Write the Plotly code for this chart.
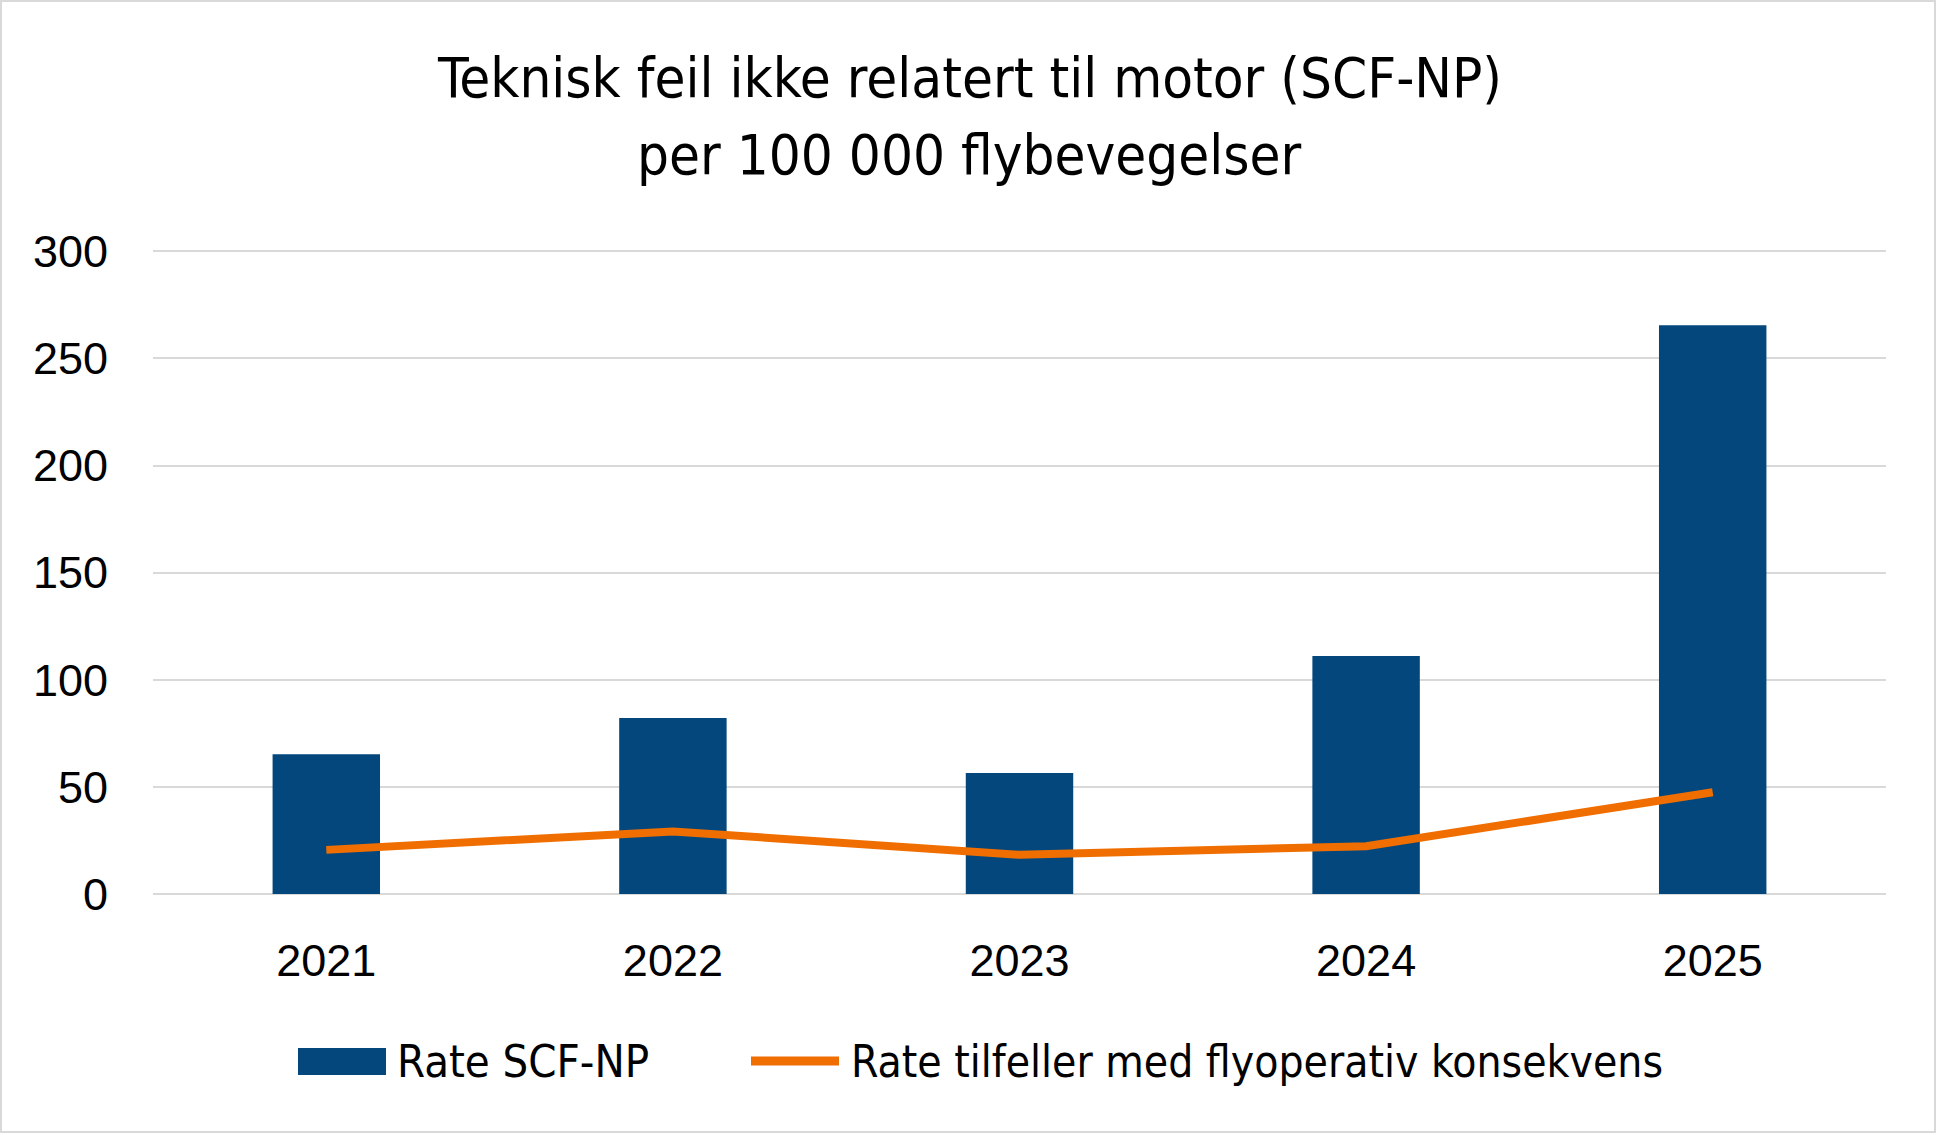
import plotly.graph_objects as go

years = ["2021", "2022", "2023", "2024", "2025"]
rate_scf_np = [65.2, 82.1, 56.5, 111.1, 265.5]
rate_flyoperativ = [20.6, 29.2, 18.3, 22.3, 47.5]

title_lines = ["Teknisk feil ikke relatert til motor (SCF-NP)", "per 100 000 flybevegelser"]
series_names = ["Rate SCF-NP", "Rate tilfeller med flyoperativ konsekvens"]
y_ticks = [0, 50, 100, 150, 200, 250, 300]

W, H = 1939, 1135
L, R, T, B = 153, 53, 247, 241
PW, PH = W - L - R, H - T - B

NARROW = "DejaVu Sans Condensed, Liberation Sans Narrow, sans-serif"
REG = "Liberation Sans, Arial, sans-serif"
BLUE = "#03477C"
ORANGE = "#F06E00"

def px_x(p):
    return (p - L) / PW

def px_y(p):
    return (H - B - p) / PH

fig = go.Figure()
fig.add_trace(go.Bar(
    x=years, y=rate_scf_np, name=series_names[0],
    marker=dict(color=BLUE, line=dict(width=0)), width=0.31, showlegend=False,
))
fig.add_trace(go.Scatter(
    x=years, y=rate_flyoperativ, name=series_names[1], mode="lines",
    line=dict(color=ORANGE, width=8), showlegend=False,
))

# outer chart border
fig.add_shape(type="rect", xref="paper", yref="paper",
              x0=px_x(1), x1=px_x(1935), y0=px_y(1132), y1=px_y(1),
              line=dict(color="#D9D9D9", width=2), fillcolor="rgba(0,0,0,0)", layer="below")

# title (two lines)
for line_text, cy in zip(title_lines, [77, 154]):
    fig.add_annotation(text=line_text, xref="paper", yref="paper",
                       x=px_x(969), y=px_y(cy), xanchor="center", yanchor="middle",
                       showarrow=False, align="center",
                       font=dict(family=NARROW, size=56, color="black"))

# custom legend
leg_y = 1061
fig.add_shape(type="rect", xref="paper", yref="paper",
              x0=px_x(298), x1=px_x(386), y0=px_y(1075), y1=px_y(1048),
              fillcolor=BLUE, line=dict(width=0))
fig.add_annotation(text=series_names[0], xref="paper", yref="paper",
                   x=px_x(395), y=px_y(leg_y), xanchor="left", yanchor="middle",
                   showarrow=False, font=dict(family=NARROW, size=45, color="black"))
fig.add_shape(type="line", xref="paper", yref="paper",
              x0=px_x(751), x1=px_x(839), y0=px_y(leg_y), y1=px_y(leg_y),
              line=dict(color=ORANGE, width=9))
fig.add_annotation(text=series_names[1], xref="paper", yref="paper",
                   x=px_x(849), y=px_y(leg_y), xanchor="left", yanchor="middle",
                   showarrow=False, font=dict(family=NARROW, size=44, color="black"))

fig.update_layout(
    width=W, height=H,
    margin=dict(l=L, r=R, t=T, b=B, autoexpand=False),
    paper_bgcolor="white", plot_bgcolor="white",
    showlegend=False,
    xaxis=dict(type="category", showgrid=False, showline=False, ticks="", ticklabelstandoff=36,
               tickfont=dict(family=REG, size=45, color="black"), range=[-0.5, 4.5]),
    yaxis=dict(range=[0, 302], tickvals=y_ticks, showgrid=True, gridcolor="#D9D9D9", gridwidth=2,
               zeroline=True, zerolinecolor="#D9D9D9", zerolinewidth=2, showline=False, ticks="",
               ticklabelstandoff=44, tickfont=dict(family=REG, size=45, color="black")),
)

fig.write_html("out.html")
